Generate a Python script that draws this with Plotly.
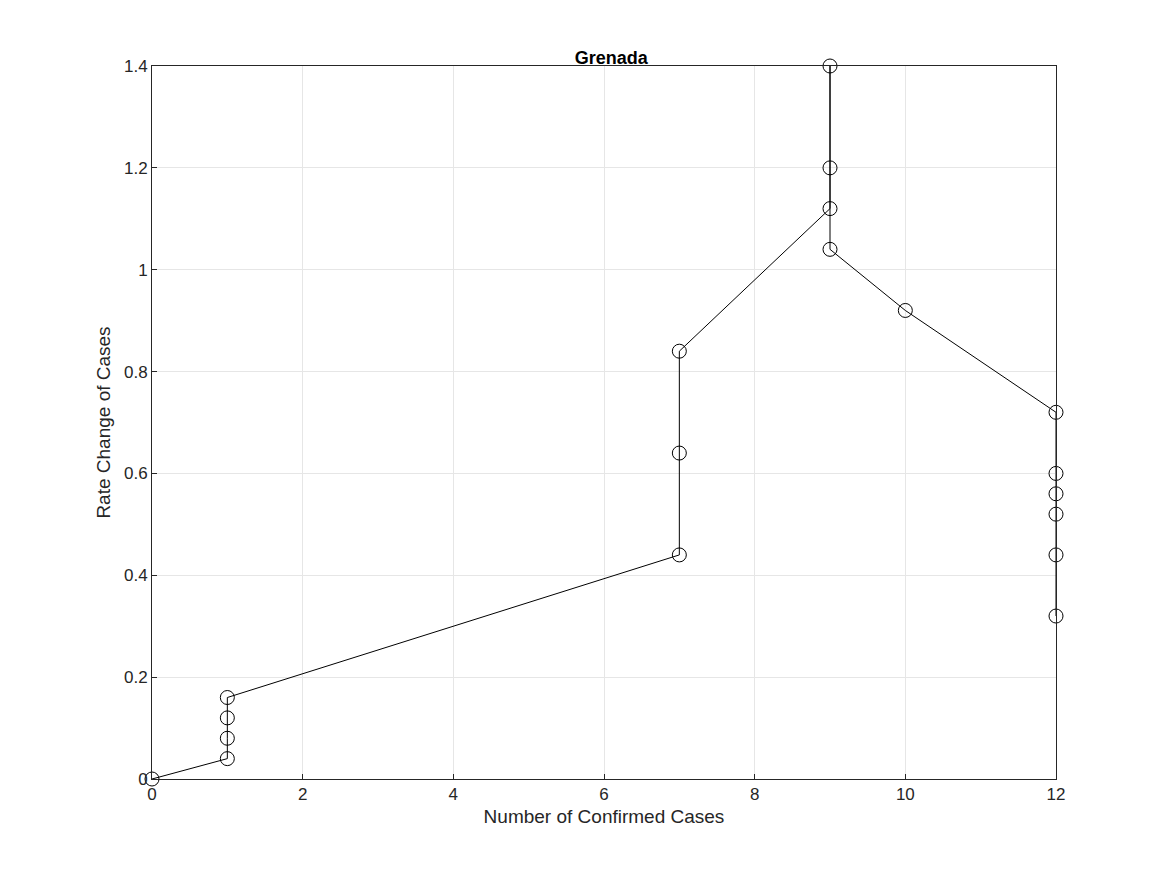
import plotly.graph_objects as go

casos = [0, 1, 1, 1, 1, 7, 7, 7, 9, 9, 9, 9, 10, 12, 12, 12, 12, 12, 12]
taxa = [0, 0.04, 0.08, 0.12, 0.16, 0.44, 0.64, 0.84, 1.12, 1.2, 1.4, 1.04, 0.92,
        0.72, 0.6, 0.56, 0.52, 0.44, 0.32]

fig = go.Figure()
fig.add_trace(go.Scatter(
    x=casos, y=taxa, mode="lines+markers", cliponaxis=False,
    line=dict(color="black", width=1),
    marker=dict(symbol="circle-open", size=14, color="black", line=dict(width=1)),
))

eixo = dict(showline=True, linecolor="#262626", linewidth=1, mirror=True,
            showgrid=True, gridcolor="#e6e6e6", zeroline=False,
            ticks="inside", ticklen=5, tickcolor="#262626",
            tickfont=dict(size=17, color="#262626"))

fig.update_layout(
    width=1167, height=875,
    paper_bgcolor="white", plot_bgcolor="white",
    margin=dict(l=144, r=119, t=58, b=104),
    showlegend=False,
    font=dict(family="Liberation Sans, Arial", color="#262626"),
    title=dict(text="<b>Grenada</b>", x=0.517, xanchor="center", y=0.95,
               font=dict(size=18, color="black")),
    xaxis=dict(eixo, range=[0, 12], dtick=2,
               title=dict(text="Number of Confirmed Cases", font=dict(size=19), standoff=6)),
    yaxis=dict(eixo, range=[0, 1.4], dtick=0.2,
               title=dict(text="Rate Change of Cases", font=dict(size=19), standoff=8)),
)

fig.write_html("out.html")
